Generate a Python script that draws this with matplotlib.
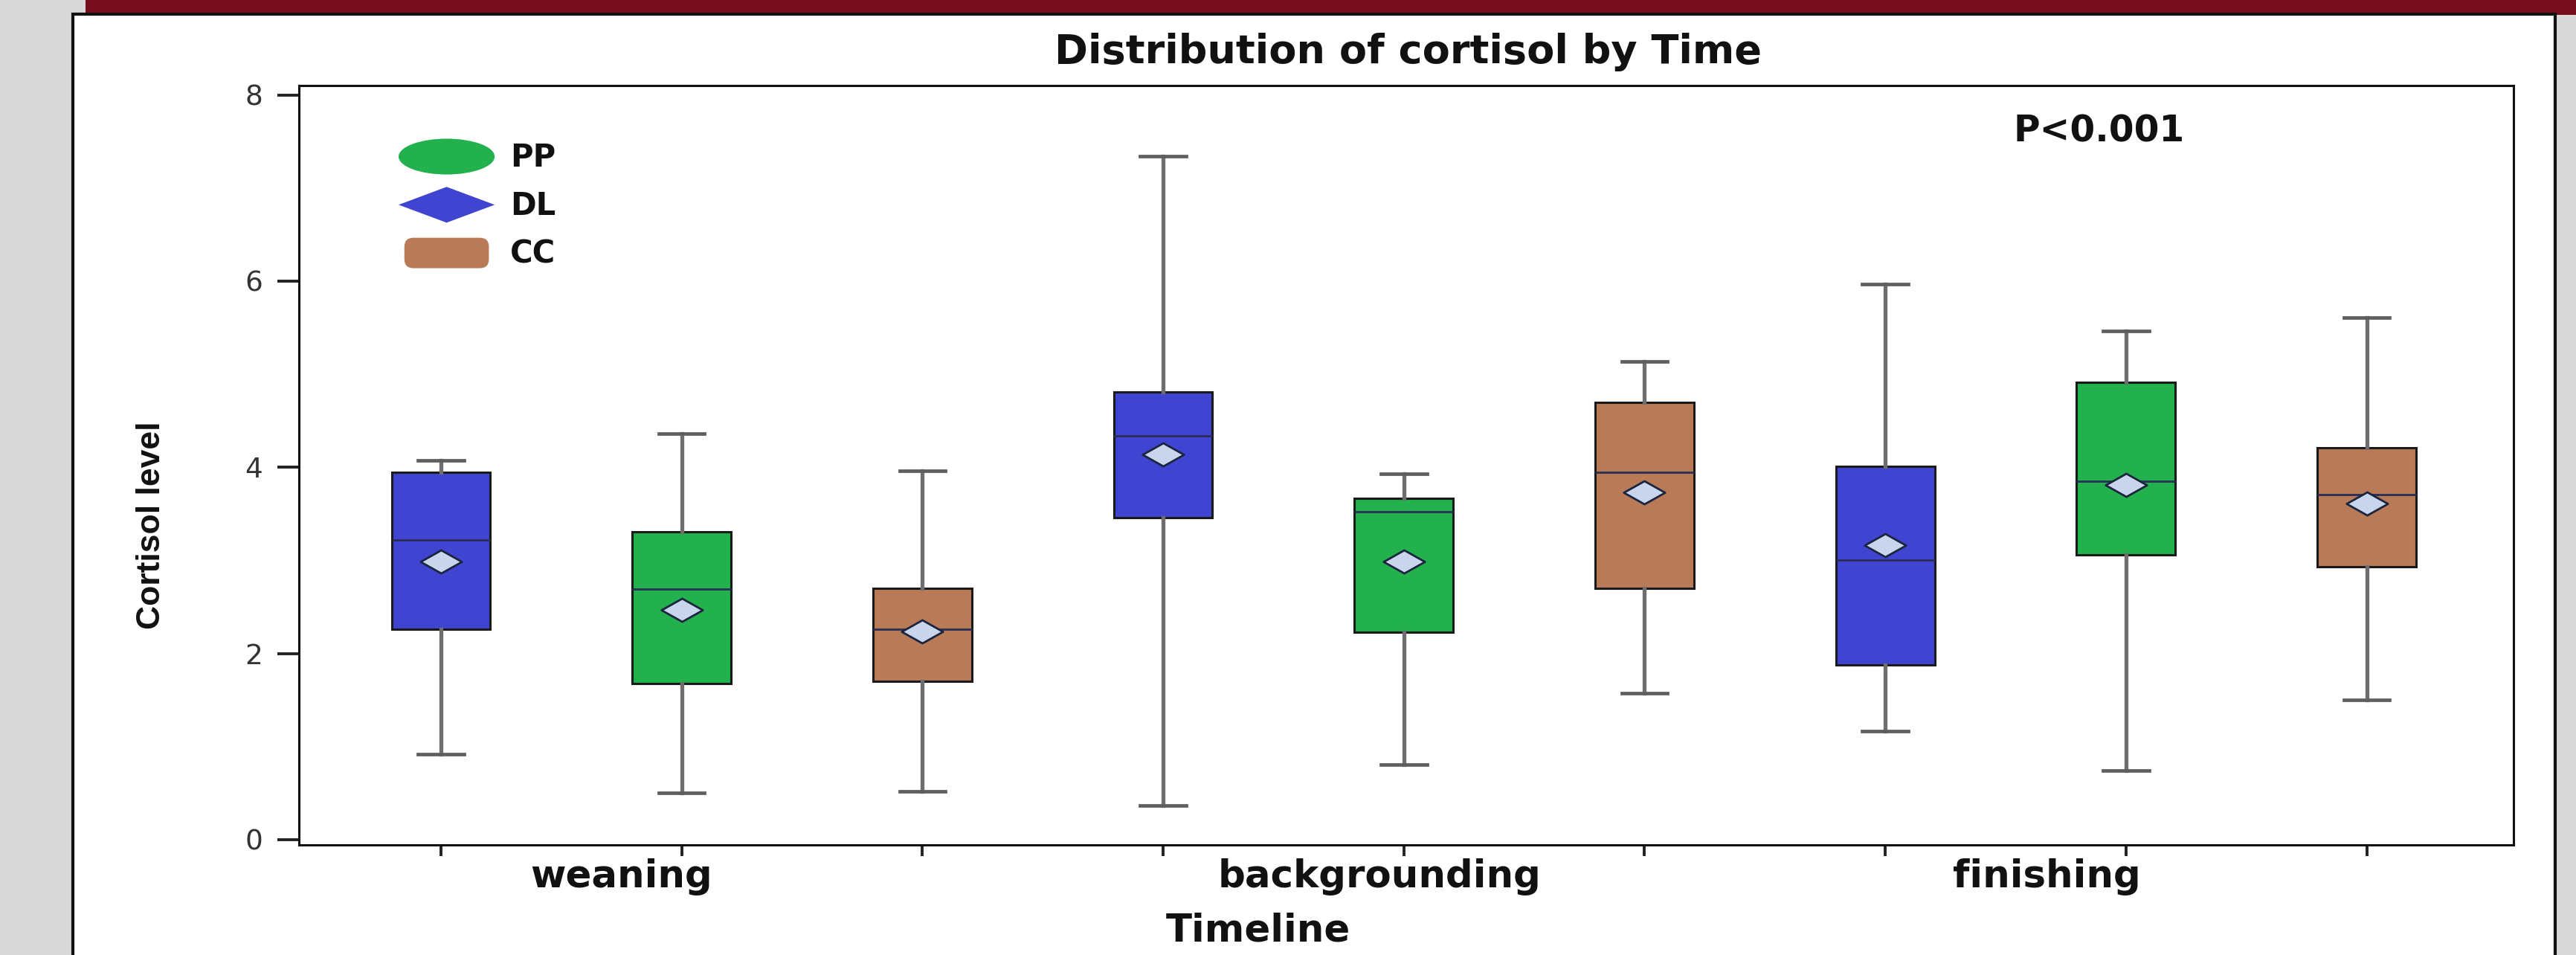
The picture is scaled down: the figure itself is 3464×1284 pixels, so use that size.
import matplotlib.pyplot as plt
from matplotlib.patches import Rectangle, Ellipse, Polygon, FancyBboxPatch, Patch
from matplotlib.legend_handler import HandlerPatch
from matplotlib.path import Path

# box order along the x axis, three diets per stage
groups = ['DL', 'PP', 'CC', 'DL', 'PP', 'CC', 'DL', 'PP', 'CC']
stage_labels = ['weaning', 'backgrounding', 'finishing']
stage_pos = [1.75, 4.90, 7.67]

whis_lo = [0.92, 0.50, 0.52, 0.37, 0.81, 1.57, 1.17, 0.74, 1.50]
q1 = [2.26, 1.68, 1.70, 3.46, 2.23, 2.70, 1.88, 3.06, 2.93]
med = [3.22, 2.69, 2.26, 4.34, 3.52, 3.95, 3.00, 3.85, 3.71]
q3 = [3.95, 3.31, 2.70, 4.81, 3.67, 4.70, 4.01, 4.91, 4.21]
whis_hi = [4.07, 4.36, 3.96, 7.34, 3.93, 5.14, 5.97, 5.46, 5.61]
means = [2.99, 2.47, 2.24, 4.14, 2.99, 3.73, 3.16, 3.81, 3.61]

legend_names = ['PP', 'DL', 'CC']
colors = {'PP': '#22b14c', 'DL': '#3f45d0', 'CC': '#b97a57'}

W, H = 3464, 1284
fig = plt.figure(figsize=(W / 100, H / 100), dpi=100, facecolor='#d9d9d9')

# slide decoration: maroon strip on top and white panel, kept behind the axes
fig.patches.append(Rectangle((115 / W, 1 - 20 / H), 1, 20 / H, transform=fig.transFigure,
                             facecolor='#780f1e', edgecolor='none', zorder=-2))
fig.patches.append(Rectangle((98 / W, -0.01), (3436 - 98) / W, 1.01 - 19 / H,
                             transform=fig.transFigure, facecolor='white',
                             edgecolor='#111111', linewidth=3, zorder=-1))

ax = fig.add_axes([402 / W, 1 - 1136 / H, (3380 - 402) / W, (1136 - 115) / H])
ax.set_facecolor('white')

stats = []
for i in range(len(groups)):
    stats.append(dict(med=med[i], q1=q1[i], q3=q3[i], whislo=whis_lo[i],
                      whishi=whis_hi[i], mean=means[i], fliers=[]))

diamond = Path([(-1, 0), (0, 0.56), (1, 0), (0, -0.56), (-1, 0)],
               [Path.MOVETO, Path.LINETO, Path.LINETO, Path.LINETO, Path.CLOSEPOLY])

positions = list(range(1, len(groups) + 1))
bp = ax.bxp(stats, positions=positions, widths=0.41, capwidths=0.19,
            showmeans=True, patch_artist=True,
            boxprops=dict(edgecolor='#1a1a1a', linewidth=2.2),
            whiskerprops=dict(color='#6e6e6e', linewidth=3.8),
            capprops=dict(color='#5e5e5e', linewidth=3.4),
            medianprops=dict(color='#2a2d55', linewidth=2),
            meanprops=dict(marker=diamond, markersize=40, markerfacecolor='#c9d5ea',
                           markeredgecolor='#1b2540', markeredgewidth=2))
for box, g in zip(bp['boxes'], groups):
    box.set_facecolor(colors[g])

ax.set_xlim(0.41, 9.61)
ax.set_ylim(-0.056, 8.1)
ax.set_yticks([0, 2, 4, 6, 8])
ax.set_xticks(positions, [''] * len(positions))
ax.set_xticks(stage_pos, stage_labels, minor=True)

for s in ax.spines.values():
    s.set_linewidth(2.2)
    s.set_color('#111111')

ax.tick_params(axis='y', length=21, width=2.8, color='#222222', pad=14,
               labelsize=27, labelcolor='#333333')
ax.tick_params(axis='x', which='major', length=11, width=2.8, color='#222222')
ax.tick_params(axis='x', which='minor', length=0, pad=13, labelsize=37)
for t in ax.get_xticklabels(minor=True):
    t.set_fontweight('bold')
    t.set_color('#111111')

ax.set_title('Distribution of cortisol by Time', fontsize=39, fontweight='bold',
             x=0.501, y=1.044, va='center', pad=0, color='#111111')

ax.set_xlabel('Timeline', fontsize=37, fontweight='bold', color='#111111')
ax.xaxis.set_label_coords(0.433, -0.1136)
ax.xaxis.label.set_va('center')

ax.set_ylabel('Cortisol level', fontsize=32, fontweight='bold',
              family=['Liberation Sans Narrow', 'Liberation Sans', 'DejaVu Sans'],
              color='#111111')
ax.yaxis.set_label_coords(-0.0665, 0.421)
ax.yaxis.label.set_va('center')
ax.yaxis.label.set_rotation_mode('default')

ax.text(0.813, 0.940, 'P<0.001', transform=ax.transAxes, ha='center', va='center',
        fontsize=35, fontweight='bold', color='#111111')


class HandlerShape(HandlerPatch):
    def __init__(self, kind):
        super().__init__()
        self.kind = kind

    def create_artists(self, legend, orig_handle, xdescent, ydescent, width, height,
                       fontsize, trans):
        cx = width / 2 - xdescent
        cy = height / 2 - ydescent
        if self.kind == 'ellipse':
            p = Ellipse((cx, cy), width, height)
        elif self.kind == 'diamond':
            p = Polygon([(cx - width / 2, cy), (cx, cy + height * 0.5),
                         (cx + width / 2, cy), (cx, cy - height * 0.5)])
        else:
            w, h = width * 0.88, height * 0.85
            p = FancyBboxPatch((cx - w / 2, cy - h / 2), w, h,
                               boxstyle='round,pad=0,rounding_size=%f' % (h * 0.3))
        p.set_facecolor(orig_handle.get_facecolor())
        p.set_edgecolor('none')
        p.set_transform(trans)
        return [p]


handles = [Patch(facecolor=colors[n], label=n) for n in legend_names]
shapes = ['ellipse', 'diamond', 'rounded']
leg = ax.legend(handles=handles, loc='upper left', bbox_to_anchor=(0.045, 0.93),
                frameon=False, borderpad=0, borderaxespad=0, fontsize=30,
                handlelength=3.1, handleheight=1.4, labelspacing=0.4,
                handletextpad=0.5,
                handler_map={h: HandlerShape(s) for h, s in zip(handles, shapes)})
for t in leg.get_texts():
    t.set_fontweight('bold')
    t.set_color('#111111')

fig.savefig('out.png', dpi=100, facecolor=fig.get_facecolor())
